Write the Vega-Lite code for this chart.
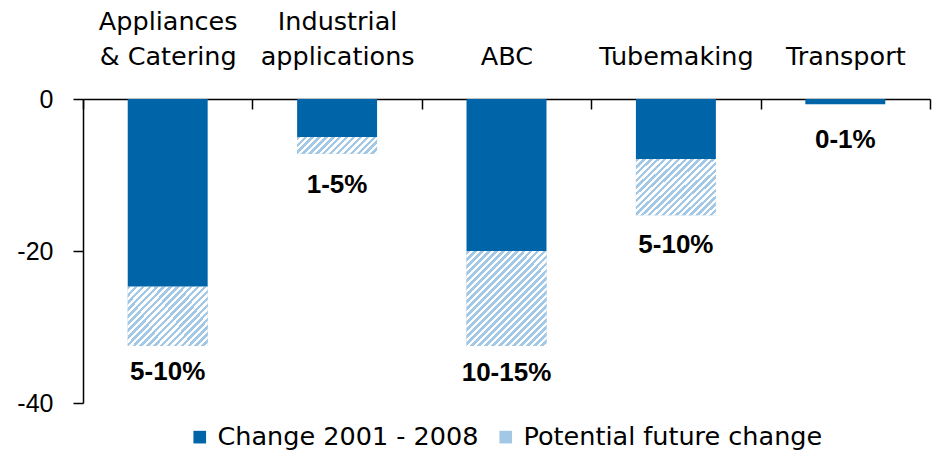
{
  "$schema": "https://vega.github.io/schema/vega-lite/v6.json",
  "width": 847,
  "height": 304,
  "autosize": {"type": "none"},
  "padding": {"left": 83, "top": 99, "right": 19, "bottom": 56},
  "config": {"font": "Liberation Sans", "view": {"stroke": null}, "axis": {"grid": false}},
  "datasets": {
    "bars": [
      {"cat": "Appliances|& Catering", "series": "Change 2001 - 2008", "start": 0, "end": -24.7},
      {"cat": "Appliances|& Catering", "series": "Potential future change", "start": -24.7, "end": -32.5},
      {"cat": "Industrial|applications", "series": "Change 2001 - 2008", "start": 0, "end": -5.0},
      {"cat": "Industrial|applications", "series": "Potential future change", "start": -5.0, "end": -7.2},
      {"cat": "ABC", "series": "Change 2001 - 2008", "start": 0, "end": -20.0},
      {"cat": "ABC", "series": "Potential future change", "start": -20.0, "end": -32.5},
      {"cat": "Tubemaking", "series": "Change 2001 - 2008", "start": 0, "end": -7.9},
      {"cat": "Tubemaking", "series": "Potential future change", "start": -7.9, "end": -15.3},
      {"cat": "Transport", "series": "Change 2001 - 2008", "start": 0, "end": -0.7}
    ],
    "labels": [
      {"cat": "Appliances|& Catering", "label": "5-10%", "pos": -35.9},
      {"cat": "Industrial|applications", "label": "1-5%", "pos": -11.3},
      {"cat": "ABC", "label": "10-15%", "pos": -36.05},
      {"cat": "Tubemaking", "label": "5-10%", "pos": -19.2},
      {"cat": "Transport", "label": "0-1%", "pos": -5.4}
    ]
  },
  "layer": [
    {
      "data": {"name": "bars"},
      "mark": {"type": "bar", "width": {"band": 0.472}},
      "encoding": {
        "x": {
          "field": "cat", "type": "nominal",
          "scale": {"domain": ["Appliances|& Catering", "Industrial|applications", "ABC", "Tubemaking", "Transport"], "paddingInner": 0, "paddingOuter": 0},
          "axis": {"orient": "top", "title": null, "labelExpr": "indexof(datum.label, '|') < 0 ? ['', datum.label] : split(datum.label, '|')", "labelAngle": 0, "labelFont": "DejaVu Sans", "labelFontSize": 25.5, "labelColor": "black", "labelPadding": 80, "labelLineHeight": 35, "labelBaseline": "alphabetic", "labelOverlap": false, "labelLimit": 400, "tickSize": -10, "tickColor": "black", "tickWidth": 1.5, "domainColor": "black", "domainWidth": 1.5, "tickBand": "extent"}
        },
        "y": {
          "field": "start", "type": "quantitative",
          "scale": {"domain": [-40, 0], "nice": false, "zero": false},
          "axis": {"values": [0, -20, -40], "labelExpr": "toString(datum.value)", "title": null, "labelFontSize": 25, "labelColor": "black", "labelPadding": 20, "tickSize": 10, "tickColor": "black", "tickWidth": 1.5, "domainColor": "black", "domainWidth": 1.5}
        },
        "y2": {"field": "end"},
        "color": {
          "field": "series", "type": "nominal",
          "scale": {"domain": ["Change 2001 - 2008", "Potential future change"], "range": ["#0065a8", "#a3c8e5"]},
          "legend": {
            "orient": "none", "legendX": 104, "legendY": 325, "direction": "horizontal", "title": null,
            "symbolType": "square", "symbolSize": 160, "symbolStrokeWidth": 0, "symbolOpacity": 1,
            "labelFont": "DejaVu Sans", "labelFontSize": 25.5, "labelColor": "black", "labelOffset": 5, "labelLimit": 400, "columnPadding": 14,
            "encoding": {"symbols": {"fill": {
              "condition": {"test": "datum.value === 'Potential future change'", "value": {"gradient": "linear", "x1": 0, "y1": 0, "x2": 1, "y2": 1, "stops": [
                {"offset": 0, "color": "#a3c8e5"}, {"offset": 0.125, "color": "#a3c8e5"}, {"offset": 0.125, "color": "#ffffff"}, {"offset": 0.25, "color": "#ffffff"},
                {"offset": 0.25, "color": "#a3c8e5"}, {"offset": 0.375, "color": "#a3c8e5"}, {"offset": 0.375, "color": "#ffffff"}, {"offset": 0.5, "color": "#ffffff"},
                {"offset": 0.5, "color": "#a3c8e5"}, {"offset": 0.625, "color": "#a3c8e5"}, {"offset": 0.625, "color": "#ffffff"}, {"offset": 0.75, "color": "#ffffff"},
                {"offset": 0.75, "color": "#a3c8e5"}, {"offset": 0.875, "color": "#a3c8e5"}, {"offset": 0.875, "color": "#ffffff"}, {"offset": 1, "color": "#ffffff"}
              ]}},
              "value": "#0065a8"
            }}}
          }
        }
      }
    },
    {
      "data": {"name": "bars"},
      "transform": [{"filter": "datum.series === 'Potential future change'"}],
      "mark": {"type": "bar", "width": {"band": 0.472}},
      "encoding": {
        "x": {"field": "cat", "type": "nominal"},
        "y": {"field": "start", "type": "quantitative"},
        "y2": {"field": "end"},
        "fill": {
          "condition": [
            {"test": "datum.cat === 'ABC'", "value": {"gradient": "linear", "x1": 0, "y1": 0, "x2": 0.908, "y2": 1.078, "stops": [
              {"offset": 0, "color": "#a3c8e5"},
              {"offset": 0.02, "color": "#a3c8e5"}, {"offset": 0.02, "color": "#ffffff"},
              {"offset": 0.04, "color": "#ffffff"}, {"offset": 0.04, "color": "#a3c8e5"},
              {"offset": 0.06, "color": "#a3c8e5"}, {"offset": 0.06, "color": "#ffffff"},
              {"offset": 0.08, "color": "#ffffff"}, {"offset": 0.08, "color": "#a3c8e5"},
              {"offset": 0.1, "color": "#a3c8e5"}, {"offset": 0.1, "color": "#ffffff"},
              {"offset": 0.12, "color": "#ffffff"}, {"offset": 0.12, "color": "#a3c8e5"},
              {"offset": 0.14, "color": "#a3c8e5"}, {"offset": 0.14, "color": "#ffffff"},
              {"offset": 0.16, "color": "#ffffff"}, {"offset": 0.16, "color": "#a3c8e5"},
              {"offset": 0.18, "color": "#a3c8e5"}, {"offset": 0.18, "color": "#ffffff"},
              {"offset": 0.2, "color": "#ffffff"}, {"offset": 0.2, "color": "#a3c8e5"},
              {"offset": 0.22, "color": "#a3c8e5"}, {"offset": 0.22, "color": "#ffffff"},
              {"offset": 0.24, "color": "#ffffff"}, {"offset": 0.24, "color": "#a3c8e5"},
              {"offset": 0.26, "color": "#a3c8e5"}, {"offset": 0.26, "color": "#ffffff"},
              {"offset": 0.28, "color": "#ffffff"}, {"offset": 0.28, "color": "#a3c8e5"},
              {"offset": 0.3, "color": "#a3c8e5"}, {"offset": 0.3, "color": "#ffffff"},
              {"offset": 0.32, "color": "#ffffff"}, {"offset": 0.32, "color": "#a3c8e5"},
              {"offset": 0.34, "color": "#a3c8e5"}, {"offset": 0.34, "color": "#ffffff"},
              {"offset": 0.36, "color": "#ffffff"}, {"offset": 0.36, "color": "#a3c8e5"},
              {"offset": 0.38, "color": "#a3c8e5"}, {"offset": 0.38, "color": "#ffffff"},
              {"offset": 0.4, "color": "#ffffff"}, {"offset": 0.4, "color": "#a3c8e5"},
              {"offset": 0.42, "color": "#a3c8e5"}, {"offset": 0.42, "color": "#ffffff"},
              {"offset": 0.44, "color": "#ffffff"}, {"offset": 0.44, "color": "#a3c8e5"},
              {"offset": 0.46, "color": "#a3c8e5"}, {"offset": 0.46, "color": "#ffffff"},
              {"offset": 0.48, "color": "#ffffff"}, {"offset": 0.48, "color": "#a3c8e5"},
              {"offset": 0.5, "color": "#a3c8e5"}, {"offset": 0.5, "color": "#ffffff"},
              {"offset": 0.52, "color": "#ffffff"}, {"offset": 0.52, "color": "#a3c8e5"},
              {"offset": 0.54, "color": "#a3c8e5"}, {"offset": 0.54, "color": "#ffffff"},
              {"offset": 0.56, "color": "#ffffff"}, {"offset": 0.56, "color": "#a3c8e5"},
              {"offset": 0.58, "color": "#a3c8e5"}, {"offset": 0.58, "color": "#ffffff"},
              {"offset": 0.6, "color": "#ffffff"}, {"offset": 0.6, "color": "#a3c8e5"},
              {"offset": 0.62, "color": "#a3c8e5"}, {"offset": 0.62, "color": "#ffffff"},
              {"offset": 0.64, "color": "#ffffff"}, {"offset": 0.64, "color": "#a3c8e5"},
              {"offset": 0.66, "color": "#a3c8e5"}, {"offset": 0.66, "color": "#ffffff"},
              {"offset": 0.68, "color": "#ffffff"}, {"offset": 0.68, "color": "#a3c8e5"},
              {"offset": 0.7, "color": "#a3c8e5"}, {"offset": 0.7, "color": "#ffffff"},
              {"offset": 0.72, "color": "#ffffff"}, {"offset": 0.72, "color": "#a3c8e5"},
              {"offset": 0.74, "color": "#a3c8e5"}, {"offset": 0.74, "color": "#ffffff"},
              {"offset": 0.76, "color": "#ffffff"}, {"offset": 0.76, "color": "#a3c8e5"},
              {"offset": 0.78, "color": "#a3c8e5"}, {"offset": 0.78, "color": "#ffffff"},
              {"offset": 0.8, "color": "#ffffff"}, {"offset": 0.8, "color": "#a3c8e5"},
              {"offset": 0.82, "color": "#a3c8e5"}, {"offset": 0.82, "color": "#ffffff"},
              {"offset": 0.84, "color": "#ffffff"}, {"offset": 0.84, "color": "#a3c8e5"},
              {"offset": 0.86, "color": "#a3c8e5"}, {"offset": 0.86, "color": "#ffffff"},
              {"offset": 0.88, "color": "#ffffff"}, {"offset": 0.88, "color": "#a3c8e5"},
              {"offset": 0.9, "color": "#a3c8e5"}, {"offset": 0.9, "color": "#ffffff"},
              {"offset": 0.92, "color": "#ffffff"}, {"offset": 0.92, "color": "#a3c8e5"},
              {"offset": 0.94, "color": "#a3c8e5"}, {"offset": 0.94, "color": "#ffffff"},
              {"offset": 0.96, "color": "#ffffff"}, {"offset": 0.96, "color": "#a3c8e5"},
              {"offset": 0.98, "color": "#a3c8e5"}, {"offset": 0.98, "color": "#ffffff"},
              {"offset": 1, "color": "#ffffff"}
            ]}},
            {"test": "datum.cat === 'Industrial|applications'", "value": {"gradient": "linear", "x1": 0, "y1": 0, "x2": 1.158, "y2": 0.242, "stops": [
              {"offset": 0, "color": "#a3c8e5"},
              {"offset": 0.0357, "color": "#a3c8e5"}, {"offset": 0.0357, "color": "#ffffff"},
              {"offset": 0.0714, "color": "#ffffff"}, {"offset": 0.0714, "color": "#a3c8e5"},
              {"offset": 0.1071, "color": "#a3c8e5"}, {"offset": 0.1071, "color": "#ffffff"},
              {"offset": 0.1429, "color": "#ffffff"}, {"offset": 0.1429, "color": "#a3c8e5"},
              {"offset": 0.1786, "color": "#a3c8e5"}, {"offset": 0.1786, "color": "#ffffff"},
              {"offset": 0.2143, "color": "#ffffff"}, {"offset": 0.2143, "color": "#a3c8e5"},
              {"offset": 0.25, "color": "#a3c8e5"}, {"offset": 0.25, "color": "#ffffff"},
              {"offset": 0.2857, "color": "#ffffff"}, {"offset": 0.2857, "color": "#a3c8e5"},
              {"offset": 0.3214, "color": "#a3c8e5"}, {"offset": 0.3214, "color": "#ffffff"},
              {"offset": 0.3571, "color": "#ffffff"}, {"offset": 0.3571, "color": "#a3c8e5"},
              {"offset": 0.3929, "color": "#a3c8e5"}, {"offset": 0.3929, "color": "#ffffff"},
              {"offset": 0.4286, "color": "#ffffff"}, {"offset": 0.4286, "color": "#a3c8e5"},
              {"offset": 0.4643, "color": "#a3c8e5"}, {"offset": 0.4643, "color": "#ffffff"},
              {"offset": 0.5, "color": "#ffffff"}, {"offset": 0.5, "color": "#a3c8e5"},
              {"offset": 0.5357, "color": "#a3c8e5"}, {"offset": 0.5357, "color": "#ffffff"},
              {"offset": 0.5714, "color": "#ffffff"}, {"offset": 0.5714, "color": "#a3c8e5"},
              {"offset": 0.6071, "color": "#a3c8e5"}, {"offset": 0.6071, "color": "#ffffff"},
              {"offset": 0.6429, "color": "#ffffff"}, {"offset": 0.6429, "color": "#a3c8e5"},
              {"offset": 0.6786, "color": "#a3c8e5"}, {"offset": 0.6786, "color": "#ffffff"},
              {"offset": 0.7143, "color": "#ffffff"}, {"offset": 0.7143, "color": "#a3c8e5"},
              {"offset": 0.75, "color": "#a3c8e5"}, {"offset": 0.75, "color": "#ffffff"},
              {"offset": 0.7857, "color": "#ffffff"}, {"offset": 0.7857, "color": "#a3c8e5"},
              {"offset": 0.8214, "color": "#a3c8e5"}, {"offset": 0.8214, "color": "#ffffff"},
              {"offset": 0.8571, "color": "#ffffff"}, {"offset": 0.8571, "color": "#a3c8e5"},
              {"offset": 0.8929, "color": "#a3c8e5"}, {"offset": 0.8929, "color": "#ffffff"},
              {"offset": 0.9286, "color": "#ffffff"}, {"offset": 0.9286, "color": "#a3c8e5"},
              {"offset": 0.9643, "color": "#a3c8e5"}, {"offset": 0.9643, "color": "#ffffff"},
              {"offset": 1, "color": "#ffffff"}
            ]}}
          ],
          "value": {"gradient": "linear", "x1": 0, "y1": 0, "x2": 1.133, "y2": 0.816, "stops": [
            {"offset": 0, "color": "#a3c8e5"},
            {"offset": 0.025, "color": "#a3c8e5"}, {"offset": 0.025, "color": "#ffffff"},
            {"offset": 0.05, "color": "#ffffff"}, {"offset": 0.05, "color": "#a3c8e5"},
            {"offset": 0.075, "color": "#a3c8e5"}, {"offset": 0.075, "color": "#ffffff"},
            {"offset": 0.1, "color": "#ffffff"}, {"offset": 0.1, "color": "#a3c8e5"},
            {"offset": 0.125, "color": "#a3c8e5"}, {"offset": 0.125, "color": "#ffffff"},
            {"offset": 0.15, "color": "#ffffff"}, {"offset": 0.15, "color": "#a3c8e5"},
            {"offset": 0.175, "color": "#a3c8e5"}, {"offset": 0.175, "color": "#ffffff"},
            {"offset": 0.2, "color": "#ffffff"}, {"offset": 0.2, "color": "#a3c8e5"},
            {"offset": 0.225, "color": "#a3c8e5"}, {"offset": 0.225, "color": "#ffffff"},
            {"offset": 0.25, "color": "#ffffff"}, {"offset": 0.25, "color": "#a3c8e5"},
            {"offset": 0.275, "color": "#a3c8e5"}, {"offset": 0.275, "color": "#ffffff"},
            {"offset": 0.3, "color": "#ffffff"}, {"offset": 0.3, "color": "#a3c8e5"},
            {"offset": 0.325, "color": "#a3c8e5"}, {"offset": 0.325, "color": "#ffffff"},
            {"offset": 0.35, "color": "#ffffff"}, {"offset": 0.35, "color": "#a3c8e5"},
            {"offset": 0.375, "color": "#a3c8e5"}, {"offset": 0.375, "color": "#ffffff"},
            {"offset": 0.4, "color": "#ffffff"}, {"offset": 0.4, "color": "#a3c8e5"},
            {"offset": 0.425, "color": "#a3c8e5"}, {"offset": 0.425, "color": "#ffffff"},
            {"offset": 0.45, "color": "#ffffff"}, {"offset": 0.45, "color": "#a3c8e5"},
            {"offset": 0.475, "color": "#a3c8e5"}, {"offset": 0.475, "color": "#ffffff"},
            {"offset": 0.5, "color": "#ffffff"}, {"offset": 0.5, "color": "#a3c8e5"},
            {"offset": 0.525, "color": "#a3c8e5"}, {"offset": 0.525, "color": "#ffffff"},
            {"offset": 0.55, "color": "#ffffff"}, {"offset": 0.55, "color": "#a3c8e5"},
            {"offset": 0.575, "color": "#a3c8e5"}, {"offset": 0.575, "color": "#ffffff"},
            {"offset": 0.6, "color": "#ffffff"}, {"offset": 0.6, "color": "#a3c8e5"},
            {"offset": 0.625, "color": "#a3c8e5"}, {"offset": 0.625, "color": "#ffffff"},
            {"offset": 0.65, "color": "#ffffff"}, {"offset": 0.65, "color": "#a3c8e5"},
            {"offset": 0.675, "color": "#a3c8e5"}, {"offset": 0.675, "color": "#ffffff"},
            {"offset": 0.7, "color": "#ffffff"}, {"offset": 0.7, "color": "#a3c8e5"},
            {"offset": 0.725, "color": "#a3c8e5"}, {"offset": 0.725, "color": "#ffffff"},
            {"offset": 0.75, "color": "#ffffff"}, {"offset": 0.75, "color": "#a3c8e5"},
            {"offset": 0.775, "color": "#a3c8e5"}, {"offset": 0.775, "color": "#ffffff"},
            {"offset": 0.8, "color": "#ffffff"}, {"offset": 0.8, "color": "#a3c8e5"},
            {"offset": 0.825, "color": "#a3c8e5"}, {"offset": 0.825, "color": "#ffffff"},
            {"offset": 0.85, "color": "#ffffff"}, {"offset": 0.85, "color": "#a3c8e5"},
            {"offset": 0.875, "color": "#a3c8e5"}, {"offset": 0.875, "color": "#ffffff"},
            {"offset": 0.9, "color": "#ffffff"}, {"offset": 0.9, "color": "#a3c8e5"},
            {"offset": 0.925, "color": "#a3c8e5"}, {"offset": 0.925, "color": "#ffffff"},
            {"offset": 0.95, "color": "#ffffff"}, {"offset": 0.95, "color": "#a3c8e5"},
            {"offset": 0.975, "color": "#a3c8e5"}, {"offset": 0.975, "color": "#ffffff"},
            {"offset": 1, "color": "#ffffff"}
          ]}
        }
      }
    },
    {
      "data": {"name": "labels"},
      "mark": {"type": "text", "fontWeight": "bold", "fontSize": 26, "baseline": "middle", "color": "black"},
      "encoding": {
        "x": {"field": "cat", "type": "nominal"},
        "y": {"field": "pos", "type": "quantitative"},
        "text": {"field": "label"}
      }
    }
  ]
}
